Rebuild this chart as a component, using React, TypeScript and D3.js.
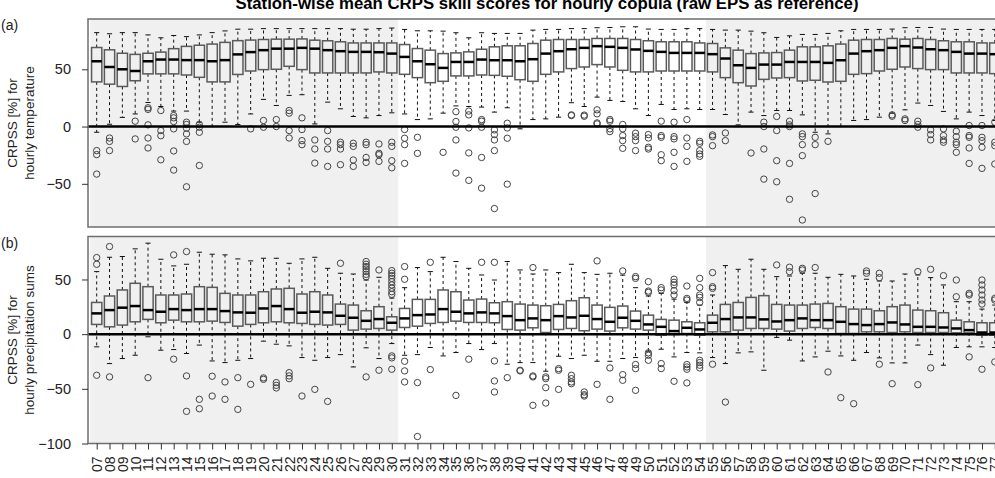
import { useEffect, useRef } from "react";
import * as d3 from "d3";

const stations = d3.range(7, 78).map((d) => String(d).padStart(2, "0"));

// stations drawn on a grey background (others on white)
const greyBlocks: [string, string][] = [
  ["07", "30"],
  ["55", "77"],
];

// (a) hourly temperature
const tempLow = [
  -5, 2, 8, 11, 21, 17.5, 13.5, 13.5, 3.8, 0, 3.8, 1.8, 11, 23.7, 18.4, 27.2, 27.8, 2.3, 21.3, 15.5, 8.8, 7.6, 9.6, 12,
  11, 6.1, 6.7, 11.7, 18, 17.5, 17, 12.6, 16.4, -2, 6.1, 6.7, 8.2, 20.8, 17.5, 25.7, 22.8, 21.9, 15.5, 9.6, 19.3, 14.9, 15.5, 14.9,
  14.9, 10.5, 1.5, 12.6, 9.6, 14, 14, 10.2, -5, -6.4, 0, 5.3, 6.1, 8.2, 11.7, 14.6, 20.5, 18.4, 13.2, 6.7, 12.6, 9.6, 5.3,
];
const tempQ1 = [
  39, 37, 35, 40, 46, 46, 46, 45, 43, 39, 39, 45.5, 48.5, 49.7, 50, 52.6, 49.7, 46.8, 46.8, 46.8, 46.8, 46.8, 47.7, 46.8,
  45.6, 42.7, 38.3, 39.5, 44.2, 44.2, 45, 44.7, 43.9, 40.9, 39.5, 45.6, 47.7, 50.6, 52, 54.1, 52, 49.1, 47.7, 47.7, 48.5, 48.5, 48.5, 48.5,
  47.7, 42.7, 38.3, 35.4, 41.2, 42.4, 42.7, 39.8, 40.4, 38.9, 39.5, 45.6, 46.2, 48.5, 50, 52, 50.6, 49.7, 49.7, 46.8, 46.8, 46.8, 46.2,
];
const tempMed = [
  57, 52, 50, 48.5, 57, 58.5, 58.5, 58, 58, 57, 58, 63, 65, 66.7, 68, 68, 68.7, 68, 66.7, 65.8, 65.2, 65.2, 64.9, 63.7,
  60.8, 57, 54.4, 51.2, 56.4, 56.4, 58.5, 57.9, 57.9, 57, 58.8, 63.7, 65.8, 67.5, 68.7, 70.2, 69.6, 68.7, 67.3, 66.1, 65.2, 64.3, 64.3, 64.3,
  63.2, 59.4, 53.5, 51.2, 54.1, 54.1, 56.4, 56.4, 56.4, 55.6, 57.9, 63.7, 65.8, 66.7, 68.7, 70.2, 69, 67.5, 66.7, 65.2, 63.7, 63.7, 63.2,
];
const tempQ3 = [
  69, 67, 64, 63, 64, 65, 68, 70, 71, 72, 73.5, 75, 75.5, 76, 76.3, 76.3, 76.5, 75.4, 74.9, 74, 73, 73, 73, 73,
  71.6, 68.1, 66.7, 63.7, 64.3, 65.2, 67.5, 69.6, 70.5, 70.5, 72.5, 75.4, 76, 76, 76, 76.9, 76.9, 76.9, 76, 74.9, 74, 74, 74, 73,
  72.5, 68.7, 66.7, 63.7, 64.3, 64.6, 66.7, 69.6, 69.6, 70.5, 72, 75.4, 76, 76, 76.9, 76.3, 76.9, 76, 74.9, 74, 74, 73, 73,
];
const tempHigh = [
  82, 81, 82, 82, 80, 77.5, 79.5, 78.5, 80, 82, 83.5, 85, 85, 85.5, 85.5, 85.5, 85.5, 85.5, 85.5, 85.5, 85, 85, 85.5, 86,
  84.8, 83.6, 83.6, 83.3, 81.9, 77.5, 81.9, 81.3, 81.3, 81.3, 84.2, 84.8, 84.8, 85.5, 85.5, 86.3, 86.5, 87.1, 87.1, 85.1, 84.8, 84.8, 85.5, 85.5,
  84.8, 84.2, 84.2, 83.3, 81.9, 77.8, 79.2, 80.4, 80.4, 81.3, 83.6, 84.8, 84.8, 84.8, 85.1, 86.3, 86.5, 86.5, 85.1, 84.8, 84.8, 84.8, 84.8,
];
const tempOut: number[][] = [
  [-21, -24.5, -41.5], [-10, -13, -21], [], [4.7, -10.8], [16.4, 15, 1.5, -10, -18.7], [14, -3.5, -8, -29],
  [9.6, 7.6, 4.4, -2, -21.3, -38], [3.8, 1.8, -1.5, -6.4, -13, -52.6], [1.8, -0.6, -5, -34], [], [], [],
  [-2], [5.3, -0.6], [6.1, 0], [14, 11.7, -3.5, -10], [7.6, -2.6, -12.3, -15.8], [-11.7, -19.6, -31.9],
  [-3.5, -12.9, -19.6, -34.8], [-13.7, -15.8, -19.6, -33.3], [-14.6, -17.3, -29.2, -34.8], [-13.7, -15.8, -27, -31.3],
  [-15.2, -23.4, -24.6, -30.4], [-13.7, -17.3, -29.8, -36],
  [-2.6, -10.2, -15.8, -32.2], [-9.4, -23.4], [], [-22.5], [13, 4.4, -0.6, -11.7, -40.6], [13.5, 10.2, -1.2, -23, -47],
  [6.1, 4.7, -0.6, -27, -53.8], [-2.9, -7, -11.7, -21, -71.6], [2.9, -1.2, -10.2, -50.3], [], [], [], [],
  [10.2, 9.6], [10, 9], [14.6, 11.1, 3.2, 2.3], [6.1, 4.7, -2, -4.4], [1.8, -2, -7.9, -12.3, -19],
  [-5.8, -8.8, -12.3, -21], [-7, -10, -18.1, -19.6], [4.7, -7.9, -9.4, -24.6, -29.8], [3.8, -8.8, -10.8, -22.5, -34.8],
  [6.1, -10, -17.3, -30.4], [-12.9, -14.6, -21, -24, -26],
  [-7.3, -8.8, -16.7], [-5.6, -12.3], [], [-23.1], [3.8, 0, -19.6, -45.9], [8.8, -3.5, -29.8, -48.2],
  [4.7, 1.5, 0, -32.2, -63.5], [-6.4, -8.8, -15.8, -25.4, -81.6], [-9.4, -15.8, -58.5], [-12.9], [], [], [], [],
  [10.2, 9], [6.7, 5.3], [4.7, 1.8, -0.6], [-2.9, -7, -11.7], [-2, -7.9, -11.7, -13.7],
  [-4.1, -8.8, -13.7, -15.8, -22.5], [0.9, -7.9, -9.4, -18.7, -32.2], [0.9, -9.4, -12.3, -18.1, -36.5], [3.8, -13.7, -16.7, -32.7],
];

// (b) hourly precipitation sums
const precLow = [
  -11.6, -26.9, -22.3, -19.3, -2.4, -14.7, -14.1, -17.7, -10, -24.5, -26, -23.9, -22.3, -6.4, -9.2, -10.7, -21.4, -23.9, -21.4, -18.7, -30, -12.5, -22.3, -8.6,
  -19.3, -18.7, -12.2, -19.9, -16.8, -8.6, -14.1, -8.6, -27.5, -26, -26, -33.9, -20.2, -22.3, -19.3, -24.8, -24.8, -22.3, -21.4, -15.6, -13.8, -20.8, -16.8, -17.1,
  -21.4, -26.9, -17.1, -16.2, -33, -3, -5.5, -24.5, -20.8, -15.6, -19.9, -23.9, -16.8, -21.7, -26.3, -26.3, -10, -18.7, -28.4, -12.2, -11.6, -11.6, -12.2,
];
const precQ1 = [
  8.9, 6.7, 8.3, 11.3, 13.5, 10.4, 12.8, 11.3, 11.3, 11.9, 10.7, 7.3, 8.9, 10.4, 11.3, 10.4, 9.8, 8.9, 8.3, 8.9, 3.7, 4.6, 5.2, 3.7,
  6.1, 7.3, 9.8, 10.7, 11.9, 10.7, 10.7, 10.4, 4.3, 3.7, 5.8, 1.5, 4.3, 5.2, 3.1, 4.6, 2.8, 5.8, 4.6, 3.7, -0.9, -0.3, 0.6, -0.9,
  2.1, 2.1, 3.7, 5.2, 5.2, 4.6, 2.8, 5.2, 6.1, 5.2, 0.6, 0.6, 2.1, 2.1, 1.5, 2.1, 1.5, 1.5, 1.5, 1.2, 1.2, -0.9, -0.9,
];
const precMed = [
  19, 22, 24.2, 25.7, 22, 20.5, 22.9, 22, 22.9, 22.9, 21.1, 19.9, 19.6, 23.5, 25.7, 22.9, 19.6, 20.5, 19.9, 16.8, 15, 12.2, 13.8, 10.4,
  14.4, 17.4, 18, 22.9, 20.5, 19, 19.9, 19, 16.5, 12.8, 14.4, 12.8, 16.5, 15.3, 16.8, 13.8, 11.3, 15, 12.2, 8.9, 6.7, 2.8, 5.8, 4.3,
  10.4, 13.8, 15.3, 15.3, 13.5, 11.6, 12.8, 14.4, 12.8, 12.8, 11.3, 9.2, 8.3, 9.2, 10.7, 8.9, 6.7, 6.7, 6.1, 5.2, 3.7, 1.5, 1.5,
];
const precQ3 = [
  29, 34.9, 40.4, 46.5, 43.4, 35.8, 35.8, 36.7, 43.4, 42.8, 37.3, 35.8, 35.8, 38.8, 41.3, 41.9, 36.7, 38.8, 35.8, 27.5, 26.6, 21.4, 25.1, 15.9,
  23.5, 31.8, 31.8, 40.4, 38.8, 31.2, 32.1, 28.7, 29.7, 27.5, 26.6, 26, 27.2, 30.6, 33.3, 26.6, 24.5, 25.7, 21.1, 17.4, 13.5, 12.8, 11.3, 10.4,
  17.4, 27.2, 29, 33.6, 35.2, 27.2, 26.6, 26.6, 27.5, 28.1, 25.1, 22.9, 22.9, 21.4, 25.1, 26.6, 22, 21.4, 19.6, 12.8, 11.3, 10.4, 10.4,
];
const precHigh = [
  57.2, 70.3, 71, 78, 83.2, 68.5, 62.4, 63.9, 74.9, 73.1, 72.5, 68.8, 67, 69.4, 69.4, 64.8, 68.8, 70.3, 60.2, 55.7, 55, 49.5, 52, 33,
  42.5, 60.9, 57.2, 70.3, 66.4, 60.2, 54.1, 49.5, 66.4, 58.7, 55, 58.7, 56.3, 63.9, 56.3, 54.7, 55.7, 54, 42.5, 34.9, 37.3, 32, 29, 26.6,
  35.8, 62.7, 59.3, 68.5, 59.3, 52.6, 53.2, 55.7, 55.7, 52, 54.7, 53.2, 50.2, 48.6, 48.6, 55, 54.1, 51.7, 45, 29.7, 29.7, 22.9, 26.6,
];
const precOut: number[][] = [
  [70, 63.9, -37.6], [80.1, -39.1], [], [], [-39.8], [], [72.5, -22.9], [75.5, -38.2, -70.6], [-59.6, -68.2],
  [-38.5, -56.6], [-43.7, -59.6], [-39.8, -68.8], [-45.9], [-40, -41.3], [-44.3, -46.8, -49.2], [-35.2, -38.2, -40.7],
  [-56.6], [-50.5], [-61.5], [64.8], [], [66.4, 63.9, 61.8, 59.6, 57.2, 54.7, 52.6, -39.1], [58.7, -33],
  [58.1, 55.7, 53.5, 51, 48, 45, 42, 38.8, 36.4, -19.9, -21.7, -32.1],
  [61.8, 50.2, -24.8, -33.6, -43.7], [-44.3, -93.6], [65.7, -32.4], [], [-56], [-22.9], [65.7], [65.7, -24.5, -42.8, -52.9],
  [-39.8], [-33, -33.6], [60.9, -38.2, -39.1, -65.1], [-39.1, -40.7, -48.9, -63], [-31.5, -33, -50.5],
  [-37.6, -40.7, -43.7, -45.3], [-52.9, -55.4, -56.6], [67, -45.9], [-30.9, -59.6], [57.8, -37, -42.2],
  [52.6, 51, -27.8, -31.5, -51.4], [48, 39.4, 38.2, -17.1, -19.3, -23.9], [42.5, 40.4, -26.9, -31.5],
  [50.2, 47.4, 45, 39.8, 35.8, -43.1], [44, 32.7, 31.2, -27.8, -30, -32.1, -44.6],
  [51, 42.5, 35.8, 33.6, 29, -23.9, -26, -28.4, -30.9],
  [56.3, 43.4, 41.9, -27.5], [-62.1], [], [], [], [63.3], [61.2, 57.2], [60.2, 58.7], [60.9], [-34.6], [-58.1], [-63.6],
  [57.8, 55.7], [55.7, 51.7, -27.5], [-45.3], [], [57.2, -46.2], [59.3, -30.9], [53.5], [49.5, 34.2], [37.3, 35.8, -20.8],
  [49.5, 45, 40.4, 35.8, 31.2, 27.5, -32.1], [32.7, 31.2, -25.4],
];

const FONT = "'Liberation Sans', Arial, Helvetica, sans-serif";
const WIDTH = 995;
const HEIGHT = 478;

type Panel = {
  tag: string;
  ylab: string;
  top: number;
  bottom: number;
  domain: [number, number];
  ticks: number[];
  low: number[];
  q1: number[];
  med: number[];
  q3: number[];
  high: number[];
  out: number[][];
};

export default function App() {
  const svgRef = useRef<SVGSVGElement | null>(null);

  useEffect(() => {
    const svg = d3.select(svgRef.current);
    svg.selectAll("*").remove();

    const left = 88;
    const right = 1003;

    const x = d3.scalePoint<string>().domain(stations).range([96.7, 994.8]);
    const step = x.step();
    const boxW = step * 0.8;

    const panels: Panel[] = [
      {
        tag: "(a)",
        ylab: "hourly temperature",
        top: 19,
        bottom: 227,
        domain: [-87.7, 93.9],
        ticks: [-50, 0, 50],
        low: tempLow,
        q1: tempQ1,
        med: tempMed,
        q3: tempQ3,
        high: tempHigh,
        out: tempOut,
      },
      {
        tag: "(b)",
        ylab: "hourly precipitation sums",
        top: 236.5,
        bottom: 443.5,
        domain: [-100, 89.3],
        ticks: [-100, -50, 0, 50],
        low: precLow,
        q1: precQ1,
        med: precMed,
        q3: precQ3,
        high: precHigh,
        out: precOut,
      },
    ];

    svg
      .append("text")
      .attr("x", 547)
      .attr("y", 9)
      .attr("text-anchor", "middle")
      .attr("font-family", FONT)
      .attr("font-weight", "bold")
      .attr("font-size", 16.8)
      .text("Station-wise mean CRPS skill scores for hourly copula (raw EPS as reference)");

    panels.forEach((p) => {
      const y = d3.scaleLinear().domain(p.domain).range([p.bottom, p.top]);
      const g = svg.append("g");

      // background blocks
      g.append("rect")
        .attr("x", left)
        .attr("y", p.top)
        .attr("width", right - left)
        .attr("height", p.bottom - p.top)
        .attr("fill", "#ffffff");
      greyBlocks.forEach(([a, b]) => {
        const x0 = Math.max(left, (x(a) as number) - step / 2);
        const x1 = Math.min(right, (x(b) as number) + step / 2);
        g.append("rect")
          .attr("x", x0)
          .attr("y", p.top)
          .attr("width", x1 - x0)
          .attr("height", p.bottom - p.top)
          .attr("fill", "#f0f0f0");
      });

      const boxes = g
        .selectAll("g.box")
        .data(stations)
        .join("g")
        .attr("class", "box")
        .attr("transform", (d) => `translate(${x(d)},0)`);

      // whiskers
      boxes
        .append("line")
        .attr("y1", (_, i) => y(p.q3[i]))
        .attr("y2", (_, i) => y(p.high[i]))
        .attr("stroke", "#111")
        .attr("stroke-width", 1)
        .attr("stroke-dasharray", "3,3");
      boxes
        .append("line")
        .attr("y1", (_, i) => y(p.q1[i]))
        .attr("y2", (_, i) => y(p.low[i]))
        .attr("stroke", "#111")
        .attr("stroke-width", 1)
        .attr("stroke-dasharray", "3,3");
      boxes
        .append("line")
        .attr("x1", -boxW / 4)
        .attr("x2", boxW / 4)
        .attr("y1", (_, i) => y(p.high[i]))
        .attr("y2", (_, i) => y(p.high[i]))
        .attr("stroke", "#111")
        .attr("stroke-width", 1);
      boxes
        .append("line")
        .attr("x1", -boxW / 4)
        .attr("x2", boxW / 4)
        .attr("y1", (_, i) => y(p.low[i]))
        .attr("y2", (_, i) => y(p.low[i]))
        .attr("stroke", "#111")
        .attr("stroke-width", 1);

      // boxes
      boxes
        .append("rect")
        .attr("x", -boxW / 2)
        .attr("width", boxW)
        .attr("y", (_, i) => y(p.q3[i]))
        .attr("height", (_, i) => y(p.q1[i]) - y(p.q3[i]))
        .attr("fill", "none")
        .attr("stroke", "#5a5a5a")
        .attr("stroke-width", 1.5);

      // zero reference
      g.append("line")
        .attr("x1", left)
        .attr("x2", right)
        .attr("y1", y(0))
        .attr("y2", y(0))
        .attr("stroke", "#000")
        .attr("stroke-width", 2.5);

      boxes
        .append("line")
        .attr("x1", -boxW / 2)
        .attr("x2", boxW / 2)
        .attr("y1", (_, i) => y(p.med[i]))
        .attr("y2", (_, i) => y(p.med[i]))
        .attr("stroke", "#000")
        .attr("stroke-width", 2.5);

      // outliers
      boxes
        .selectAll("circle")
        .data((_, i) => p.out[i])
        .join("circle")
        .attr("cy", (v) => y(v))
        .attr("r", 3.2)
        .attr("fill", "none")
        .attr("stroke", "#444")
        .attr("stroke-width", 1);

      // frame
      g.append("rect")
        .attr("x", left)
        .attr("y", p.top)
        .attr("width", right - left)
        .attr("height", p.bottom - p.top)
        .attr("fill", "none")
        .attr("stroke", "#6e6e6e")
        .attr("stroke-width", 1.5);

      // y axis
      const ax = g
        .append("g")
        .attr("transform", `translate(${left},0)`)
        .call(
          d3
            .axisLeft(y)
            .tickValues(p.ticks)
            .tickSize(6)
            .tickSizeOuter(0)
            .tickFormat((d) => d3.format("d")(d as number).replace("-", "\u2212"))
        );
      ax.select(".domain").remove();
      ax.selectAll("line").attr("stroke", "#333");
      ax.selectAll("text")
        .attr("font-family", FONT)
        .attr("font-size", 14.5)
        .attr("fill", "#222")
        .attr("x", -17);

      // panel tag and axis title
      g.append("text")
        .attr("x", 1)
        .attr("y", p.top + 11)
        .attr("font-family", FONT)
        .attr("font-size", 14)
        .attr("fill", "#222")
        .text(p.tag);

      const cy = (p.top + p.bottom) / 2;
      [["CRPSS [%] for", 17], [p.ylab, 34]].forEach(([txt, xx]) => {
        g.append("text")
          .attr("transform", `translate(${xx},${cy}) rotate(-90)`)
          .attr("text-anchor", "middle")
          .attr("font-family", FONT)
          .attr("font-size", 13.5)
          .attr("fill", "#222")
          .text(txt as string);
      });
    });

    // x axis with station labels
    const bottom = panels[1].bottom;
    const xa = svg
      .append("g")
      .attr("transform", `translate(0,${bottom})`)
      .call(d3.axisBottom(x).tickSize(6).tickSizeOuter(0));
    xa.select(".domain").remove();
    xa.selectAll("line").attr("stroke", "#333");
    xa.selectAll("text")
      .attr("font-family", FONT)
      .attr("font-size", 14)
      .attr("fill", "#222")
      .attr("transform", "rotate(-90)")
      .attr("text-anchor", "end")
      .attr("dy", "0.35em")
      .attr("x", -13)
      .attr("y", 0);
  }, []);

  return (
    <svg
      ref={svgRef}
      width={WIDTH}
      height={HEIGHT}
      style={{ position: "absolute", left: 0, top: 0, background: "#fff" }}
    />
  );
}
